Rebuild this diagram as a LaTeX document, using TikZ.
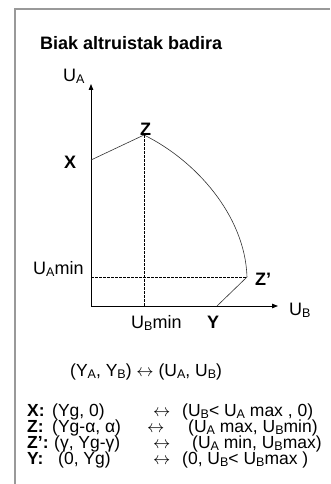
\documentclass[tikz,border=0pt]{standalone}
\usepackage{fontspec}
\setmainfont{Liberation Sans}
\usetikzlibrary{arrows.meta}
\newcommand{\ix}[1]{\raisebox{-2.2pt}{\fontsize{12.5}{12}\selectfont #1}}
\newcommand{\corr}{{\fontsize{17}{16}\selectfont$\leftrightarrow$}}

\begin{document}
\begin{tikzpicture}[
					x=1pt, y=-1pt,
					frame/.style={draw=gray!80, line width=1.2pt},
					axis/.style={-{Triangle[length=6pt,width=4.5pt]}, line width=0.8pt},
					guide/.style={dash pattern=on 2.5pt off 1.5pt, line width=0.5pt},
					curve/.style={line width=0.6pt, draw=black!80},
					lab/.style={font=\fontsize{18}{20}\selectfont, anchor=base west, inner sep=0pt},
					pt/.style={font=\fontsize{18}{20}\selectfont\bfseries, anchor=base west, inner sep=0pt},
					row/.style={font=\fontsize{17.5}{16}\selectfont, anchor=base west, inner sep=0pt,
						text height=11.5pt, text depth=3pt}
					]
					\useasboundingbox (0,0) rectangle (330,484);
					\draw[frame] (15,484) -- (15,9) -- (330,9);
					
					\node[pt] (title) at (40,49.5) {Biak altruistak badira};
					
					% axes and frontier
					\coordinate (O)  at (91,306);
					\coordinate (ua) at (91,84);
					\coordinate (ub) at (278,306);
					\coordinate (X)  at (91,160);
					\coordinate (Z)  at (144,135);
					\coordinate (Zp) at (247,277);
					\coordinate (Y)  at (217,306);
					\coordinate (Zb) at (144,306);
					\coordinate (Za) at (91,277);
					
					\draw[axis] (O) -- (ua);
					\draw[axis] (O) -- (ub);
					\draw[curve] (X) -- (Z) .. controls (195,160) and (245,215) .. (Zp) -- (Y);
					\draw[guide] (Z) -- (Zb);
					\draw[guide] (Za) -- (Zp);
					
					\node[lab] (ualab) at (63,81.5)  {U\ix{A}};
					\node[lab] (ublab) at (289,315.5) {U\ix{B}};
					\node[pt]  (xlab)  at (64,168.5) {X};
					\node[pt]  (zlab)  at (140,135.5) {Z};
					\node[pt]  (zplab) at (255,285) {Z’};
					\node[pt]  (ylab)  at (207,328.5) {Y};
					\node[lab] (uamin) at (33,274.5) {U\ix{A}min};
					\node[lab] (ubmin) at (131,328.5) {U\ix{B}min};
					
					% correspondence table
					\node[row] (map) at (70,376.5) {(Y\ix{A}, Y\ix{B}) \corr\ (U\ix{A}, U\ix{B})};
					
					\node[row] (xkey) at (27,416.5) {\textbf{X:}};
					\node[row] (xy)   at (52,416.5) {(Yg, 0)};
					\node[row] (xarr) at (153,416.5) {\corr};
					\node[row] (xu)   at (182,416.5) {(U\ix{B}< U\ix{A} max , 0)};
					
					\node[row] (zkey) at (27,432.5) {\textbf{Z:}};
					\node[row] (zy)   at (52,432.5) {(Yg-α, α)};
					\node[row] (zarr) at (147,432.5) {\corr};
					\node[row] (zu)   at (188,432.5) {(U\ix{A} max, U\ix{B}min)};
					
					\node[row] (zpkey) at (27,448.5) {\textbf{Z’:}};
					\node[row] (zpy)   at (54,448.5) {(γ, Yg-γ)};
					\node[row] (zparr) at (153,448.5) {\corr};
					\node[row] (zpu)   at (192,448.5) {(U\ix{A} min, U\ix{B}max)};
					
					\node[row] (ykey) at (27,464.5) {\textbf{Y:}};
					\node[row] (yy)   at (58,464.5) {(0, Yg)};
					\node[row] (yarr) at (153,464.5) {\corr};
					\node[row] (yu)   at (182,464.5) {(0, U\ix{B}< U\ix{B}max )};
				\end{tikzpicture}
\end{document}
